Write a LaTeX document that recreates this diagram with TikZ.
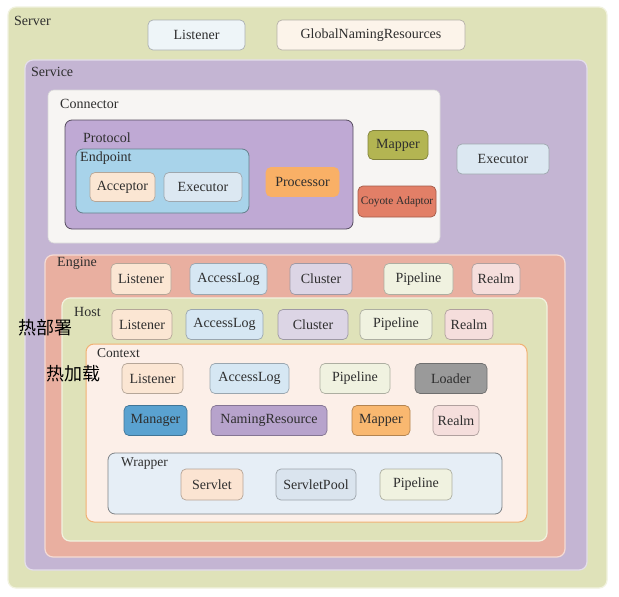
\documentclass[tikz,border=0pt]{standalone}
\usepackage{fontspec}
\setmainfont{Liberation Serif}
\newfontfamily\cjk{Noto Sans CJK SC}
\usepackage{tikz}
\usetikzlibrary{positioning}

\definecolor{serverbg}{HTML}{DFE2B9}
\definecolor{servicebg}{HTML}{C4B5D3}
\definecolor{connbg}{HTML}{F7F5F3}
\definecolor{protobg}{HTML}{BFA9D4}
\definecolor{endpointbg}{HTML}{A8D3EA}
\definecolor{enginebg}{HTML}{E9AFA0}
\definecolor{contextbg}{HTML}{FCEFE8}
\definecolor{wrapperbg}{HTML}{E6EEF6}
\definecolor{listenerc}{HTML}{FBE6D3}
\definecolor{toplistc}{HTML}{EEF5F8}
\definecolor{globalc}{HTML}{FCF4EA}
\definecolor{accesslogc}{HTML}{D6E7F3}
\definecolor{clusterc}{HTML}{DCD5E5}
\definecolor{pipelinec}{HTML}{F0F2E0}
\definecolor{realmc}{HTML}{F5DEDC}
\definecolor{executorc}{HTML}{DCE8F2}
\definecolor{processorc}{HTML}{F9B066}
\definecolor{mapperc}{HTML}{B3B552}
\definecolor{coyotec}{HTML}{E27F67}
\definecolor{loaderc}{HTML}{9A9A9A}
\definecolor{managerc}{HTML}{5AA2D0}
\definecolor{namingc}{HTML}{B7A3CC}
\definecolor{mapperbc}{HTML}{F9B870}
\definecolor{servletc}{HTML}{FBE4D2}
\definecolor{poolc}{HTML}{DAE4EE}
\definecolor{txt}{HTML}{2E2E2E}

\tikzset{
  frame/.style={rectangle, rounded corners=8pt, fill=#1, draw=white!55!#1, line width=1.2pt, inner sep=0pt},
  comp/.style={rectangle, rounded corners=5pt, fill=#1, draw=#1!72!black, line width=0.7pt,
    minimum height=30pt, inner sep=0pt, font=\fontsize{14}{16}\selectfont, text=txt},
  lbl/.style={anchor=west, inner sep=0pt, font=\fontsize{14}{16}\selectfont, text=txt}
}

\begin{document}
\begin{tikzpicture}[x=1pt, y=-1pt]
  \useasboundingbox[fill=white] (0,0) rectangle (619,597);

  % Server
  \node[frame=serverbg, minimum width=599, minimum height=581] (server) at (307.5,297.5) {};
  \node[lbl] (serverlbl) at (14,21) {Server};
  \node[comp=toplistc, minimum width=97] (srvlistener) at (196.5,35) {Listener};
  \node[comp=globalc, minimum width=188] (globalres) at (371,35) {GlobalNamingResources};

  % Service
  \node[frame=servicebg, minimum width=562, minimum height=510] (service) at (306,315) {};
  \node[lbl] (servicelbl) at (31,72) {Service};
  \node[comp=executorc, minimum width=92] (svcexecutor) at (503,159) {Executor};

  % Connector
  \node[frame=connbg, draw=white!70!gray, line width=0.6pt, rounded corners=6pt,
        minimum width=392, minimum height=153] (connector) at (244,166.5) {};
  \node[lbl] (connectorlbl) at (60,104) {Connector};
  \node[frame=protobg, draw=protobg!45!black, line width=0.8pt, rounded corners=7pt,
        minimum width=288, minimum height=109] (protocol) at (209,174.5) {};
  \node[lbl] (protocollbl) at (83,138) {Protocol};
  \node[frame=endpointbg, draw=endpointbg!60!black, line width=0.8pt, rounded corners=7pt,
        minimum width=173, minimum height=64] (endpoint) at (162.5,181) {};
  \node[lbl] (endpointlbl) at (80,158) {Endpoint};
  \node[comp=listenerc, minimum width=65, minimum height=29] (acceptor) at (122.5,187) {Acceptor};
  \node[comp=executorc, minimum width=78, minimum height=29] (executor) at (203,187) {Executor};
  \node[comp=processorc, draw=processorc, minimum width=73, minimum height=29] (processor) at (302.5,182) {Processor};
  \node[comp=mapperc, minimum width=60, minimum height=29] (mapper) at (398,145) {Mapper};
  \node[comp=coyotec, minimum width=78, minimum height=31,
        font=\fontsize{11.3}{13}\selectfont] (coyote) at (397,201.5) {Coyote Adaptor};

  % Engine
  \node[frame=enginebg, minimum width=520, minimum height=302] (engine) at (305,406) {};
  \node[lbl] (enginelbl) at (57,263) {Engine};
  \foreach \cx/\w/\name/\txt/\col in {141/60/englistener/Listener/listenerc,
      228.5/77/engaccess/AccessLog/accesslogc, 321/62/engcluster/Cluster/clusterc,
      418.5/69/engpipeline/Pipeline/pipelinec, 496/48/engrealm/Realm/realmc}
    \node[comp=\col, minimum width=\w, minimum height=31] (\name) at (\cx,279) {\txt};

  % Host
  \node[frame=serverbg, minimum width=485, minimum height=243] (host) at (304.5,419.5) {};
  \node[lbl] (hostlbl) at (74,312) {Host};
  \foreach \cx/\w/\name/\txt/\col in {142/60/hostlistener/Listener/listenerc,
      224.5/77/hostaccess/AccessLog/accesslogc, 313/70/hostcluster/Cluster/clusterc,
      396/72/hostpipeline/Pipeline/pipelinec, 469/48/hostrealm/Realm/realmc}
    \node[comp=\col, minimum width=\w] (\name) at (\cx,324.5) {\txt};

  % Context
  \node[frame=contextbg, draw=contextbg!55!orange!80!brown, line width=1pt,
        minimum width=441, minimum height=178] (context) at (306.5,433) {};
  \node[lbl, font=\fontsize{13.5}{15}\selectfont] (contextlbl) at (97,353) {Context};
  \foreach \cx/\w/\name/\txt/\col in {152.5/61/ctxlistener/Listener/listenerc,
      249.5/79/ctxaccess/AccessLog/accesslogc, 355/70/ctxpipeline/Pipeline/pipelinec,
      451/72/ctxloader/Loader/loaderc}
    \node[comp=\col, minimum width=\w] (\name) at (\cx,378.5) {\txt};
  \foreach \cx/\w/\name/\txt/\col in {155.5/63/ctxmanager/Manager/managerc,
      269/116/ctxnaming/NamingResource/namingc, 381/58/ctxmapper/Mapper/mapperbc,
      456/46/ctxrealm/Realm/realmc}
    \node[comp=\col, minimum width=\w] (\name) at (\cx,420.5) {\txt};

  % Wrapper
  \node[frame=wrapperbg, draw=wrapperbg!55!black, line width=0.8pt, rounded corners=7pt,
        minimum width=394, minimum height=61] (wrapper) at (305,483.5) {};
  \node[lbl, font=\fontsize{13.5}{15}\selectfont] (wrapperlbl) at (121,464) {Wrapper};
  \foreach \cx/\w/\name/\txt/\col in {212/62/servlet/Servlet/servletc,
      316/80/servletpool/ServletPool/poolc, 416/72/wrppipeline/Pipeline/pipelinec}
    \node[comp=\col, minimum width=\w, minimum height=31] (\name) at (\cx,484.5) {\txt};

  % hot reload notes
  \node[anchor=west, inner sep=0pt, font=\cjk\fontsize{18}{20}\selectfont] (hotdeploy) at (18,328) {热部署};
  \node[anchor=west, inner sep=0pt, font=\cjk\fontsize{18}{20}\selectfont] (hotreload) at (46,374) {热加载};
\end{tikzpicture}
\end{document}
